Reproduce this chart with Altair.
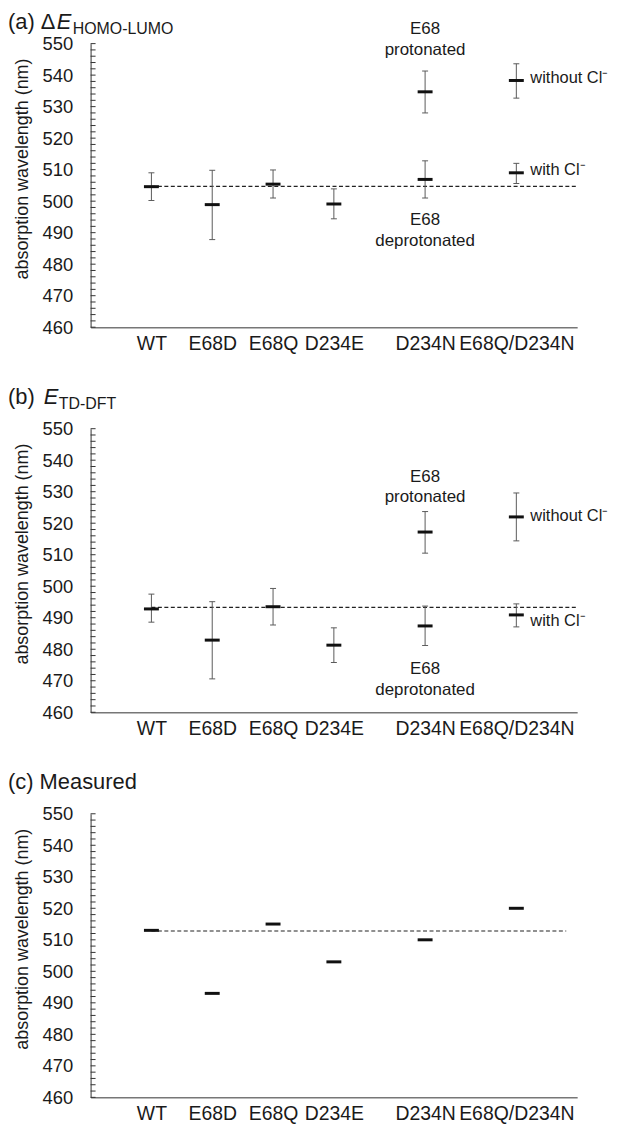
import altair as alt
import pandas as pd

FONT = "Liberation Sans"
INK = "#1a1a1a"

# ---------------- data ----------------
categories = ["WT", "E68D", "E68Q", "D234E", "D234N", "E68Q/D234N"]
category_slot = [1, 2, 3, 4, 5.5, 7]

point_category = ["WT", "E68D", "E68Q", "D234E", "D234N", "D234N", "E68Q/D234N", "E68Q/D234N"]

homo_lumo_value = [504.6, 498.9, 505.4, 499.1, 534.7, 506.9, 538.3, 509.0]
homo_lumo_low = [500.2, 487.8, 501.0, 494.4, 528.0, 501.0, 532.7, 505.6]
homo_lumo_high = [509.0, 509.8, 509.9, 503.9, 541.3, 512.8, 543.6, 512.0]

tddft_value = [492.8, 482.9, 493.5, 481.3, 517.2, 487.4, 522.0, 490.9]
tddft_low = [488.6, 470.6, 487.7, 475.8, 510.5, 481.2, 514.4, 487.1]
tddft_high = [497.5, 495.1, 499.3, 486.8, 523.7, 493.7, 529.6, 494.4]

measured_category = ["WT", "E68D", "E68Q", "D234E", "D234N", "E68Q/D234N"]
measured_value = [513.0, 493.0, 515.0, 503.0, 510.0, 520.0]

reference_value = [504.7, 493.3, 512.8]
reference_start_slot = [1, 1, 1]
reference_end_slot = [8.0, 8.0, 7.82]

y_domain = [460, 550]
y_labels = [460, 470, 480, 490, 500, 510, 520, 530, 540, 550]
y_minor_ticks = list(range(460, 551, 2))
x_domain = [0, 8]

note_center_text = ["E68", "protonated", "E68", "deprotonated"]
note_left_text = ["without Cl⁻", "with Cl⁻"]
a_note_center_slot = [5.5, 5.5, 5.5, 5.5]
a_note_center_y = [554.5, 547.9, 494.0, 487.4]
a_note_left_slot = [7.23, 7.23]
a_note_left_y = [539.2, 510.0]
b_note_center_slot = [5.5, 5.5, 5.5, 5.5]
b_note_center_y = [534.7, 528.2, 473.7, 467.2]
b_note_left_slot = [7.23, 7.23]
b_note_left_y = [522.4, 489.1]

title_main = ["(a) Δ", "(b)", "(c) Measured"]
title_var = ["E", "E", ""]
title_sub = ["HOMO-LUMO", "TD-DFT", ""]

slot_of = dict(zip(categories, category_slot))

# ---------------- encodings ----------------
label_expr = "''"
for cat, slot in zip(categories, category_slot):
    label_expr = f"datum.value == {slot} ? '{cat}' : " + label_expr


def X(field):
    return alt.X(
        field,
        type="quantitative",
        scale=alt.Scale(domain=x_domain, nice=False, zero=False),
        axis=alt.Axis(
            values=category_slot, labelExpr=label_expr, ticks=False, tickSize=0,
            domainColor="#777777", domainWidth=1.5, grid=False, title=None,
            labelFont=FONT, labelFontSize=19.5, labelColor=INK, labelPadding=7.5,
            labelFlush=False, labelOverlap=False,
        ),
    )


def Y(field):
    return alt.Y(
        field,
        type="quantitative",
        scale=alt.Scale(domain=y_domain, nice=False, zero=False),
        axis=alt.Axis(
            values=y_labels, ticks=False, tickSize=0, domainColor="#333333", domainWidth=1,
            grid=False, labelFont=FONT, labelFontSize=18.5, labelColor=INK, labelPadding=18,
            title="absorption wavelength (nm)", titleFont=FONT, titleFontSize=18,
            titleFontWeight="normal", titleColor=INK, titlePadding=11, titleY=125.5,
        ),
    )


def make_panel(idx, values, low=None, high=None, cats=None,
               nc_slot=None, nc_y=None, nl_slot=None, nl_y=None,
               title_y=-24.4, title_baseline="alphabetic", sub_y=-19.4,
               var_dx=49, sub_dx=16):
    cats = cats or point_category
    df = pd.DataFrame({"cat": cats, "value": values})
    df["slot"] = df["cat"].map(slot_of)
    layers = []

    tick_df = pd.DataFrame({"t": y_minor_ticks})
    layers.append(
        alt.Chart(tick_df).mark_rule(color="#333333", strokeWidth=1).encode(
            y=Y("t"), x=alt.value(0), x2=alt.value(5)
        )
    )

    ref_df = pd.DataFrame({
        "start": [reference_start_slot[idx]],
        "end": [reference_end_slot[idx]],
        "ref": [reference_value[idx]],
    })
    layers.append(
        alt.Chart(ref_df).mark_rule(color="#222222", strokeWidth=1.1, strokeDash=[4, 2.5]).encode(
            x=X("start"), x2="end", y=Y("ref")
        )
    )

    if low is not None:
        df["low"] = low
        df["high"] = high
        base = alt.Chart(df)
        layers.append(
            base.mark_rule(color="#5a5a5a", strokeWidth=1).encode(x=X("slot"), y=Y("low"), y2="high")
        )
        for end in ("low", "high"):
            layers.append(
                base.mark_tick(orient="horizontal", size=6, thickness=1, color="#5a5a5a", opacity=1).encode(
                    x=X("slot"), y=Y(end))
            )

    layers.append(
        alt.Chart(df).mark_tick(orient="horizontal", size=15, thickness=3, color="#111111", opacity=1).encode(
            x=X("slot"), y=Y("value")
        )
    )

    if nc_slot is not None:
        ndf = pd.DataFrame({"slot": nc_slot, "y": nc_y, "text": note_center_text})
        layers.append(
            alt.Chart(ndf).mark_text(font=FONT, fontSize=17, color=INK, align="center", baseline="middle").encode(
                x=X("slot"), y=Y("y"), text="text:N")
        )
        ldf = pd.DataFrame({"slot": nl_slot, "y": nl_y, "text": note_left_text})
        layers.append(
            alt.Chart(ldf).mark_text(font=FONT, fontSize=16.5, color=INK, align="left", baseline="middle").encode(
                x=X("slot"), y=Y("y"), text="text:N")
        )

    x0 = -83
    tdf = pd.DataFrame({"t": [title_main[idx]]})
    layers.append(
        alt.Chart(tdf).mark_text(font=FONT, fontSize=22, color=INK, align="left", baseline=title_baseline).encode(
            x=alt.value(x0), y=alt.value(title_y), text="t:N")
    )
    if title_var[idx]:
        vdf = pd.DataFrame({"t": [title_var[idx]]})
        layers.append(
            alt.Chart(vdf).mark_text(font=FONT, fontSize=22, fontStyle="italic", color=INK, align="left",
                                     baseline=title_baseline).encode(
                x=alt.value(x0 + var_dx), y=alt.value(title_y), text="t:N")
        )
        sdf = pd.DataFrame({"t": [title_sub[idx]]})
        layers.append(
            alt.Chart(sdf).mark_text(font=FONT, fontSize=16, color=INK, align="left",
                                     baseline="alphabetic").encode(
                x=alt.value(x0 + var_dx + sub_dx), y=alt.value(sub_y), text="t:N")
        )

    return alt.layer(*layers).properties(width=489, height=285)


panel_a = make_panel(0, homo_lumo_value, homo_lumo_low, homo_lumo_high,
                     nc_slot=a_note_center_slot, nc_y=a_note_center_y,
                     nl_slot=a_note_left_slot, nl_y=a_note_left_y,
                     title_y=-31.5, title_baseline="top", sub_y=-10,
                     var_dx=49, sub_dx=16)
panel_b = make_panel(1, tddft_value, tddft_low, tddft_high,
                     nc_slot=b_note_center_slot, nc_y=b_note_center_y,
                     nl_slot=b_note_left_slot, nl_y=b_note_left_y,
                     title_y=-24.4, sub_y=-19.4, var_dx=36, sub_dx=15)
panel_c = make_panel(2, measured_value, cats=measured_category, title_y=-24.4)

chart = alt.vconcat(panel_a, panel_b, panel_c, spacing=33).properties(
    padding=0, background="white"
).configure_view(strokeWidth=0)

chart.save("out.html", embed_options={"renderer": "svg", "actions": False})
